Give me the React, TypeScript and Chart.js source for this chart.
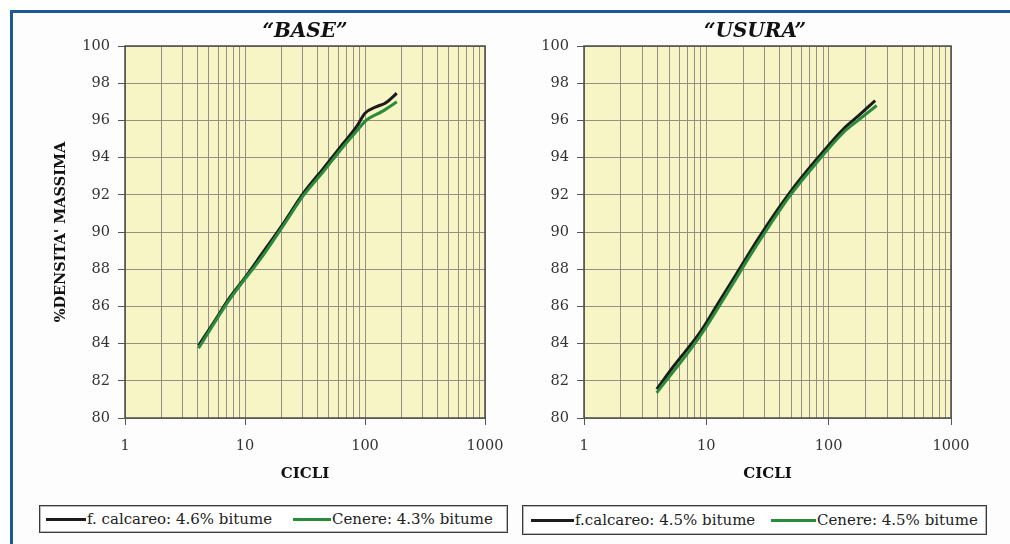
import React, { useEffect, useRef } from 'react';
import { Chart, registerables } from 'chart.js';

Chart.register(...registerables);

// ---------- data ----------
const xTickValues = [1, 2, 3, 4, 5, 6, 7, 8, 9, 10, 20, 30, 40, 50, 60, 70, 80, 90, 100, 200, 300, 400, 500, 600, 700, 800, 900, 1000];
const xMajorLabels = ['1', '10', '100', '1000'];
const yMin = 80;
const yMax = 100;
const yStep = 2;

const baseTitle = '“BASE”';
const usuraTitle = '“USURA”';
const xTitle = 'CICLI';
const yTitle = "%DENSITA' MASSIMA";

const baseLabels = ['f. calcareo: 4.6% bitume', 'Cenere: 4.3% bitume'];
const usuraLabels = ['f.calcareo: 4.5% bitume', 'Cenere: 4.5% bitume'];

const baseBlackCicli = [4.1, 5.5, 7.5, 10, 13.3, 20.9, 30.6, 45, 66, 85, 100, 125, 147, 184];
const baseBlackDens = [83.9, 85.15, 86.5, 87.55, 88.67, 90.47, 92.08, 93.42, 94.77, 95.66, 96.38, 96.74, 96.92, 97.46];
const baseGreenCicli = [4.1, 7.5, 13.8, 20.9, 30.6, 45, 66, 85, 103, 138, 184];
const baseGreenDens = [83.75, 86.4, 88.65, 90.35, 91.95, 93.25, 94.6, 95.42, 96.02, 96.47, 97.0];

const usuraBlackCicli = [3.93, 5.5, 8.88, 12, 16.6, 27.5, 48.3, 80, 132, 170, 240];
const usuraBlackDens = [81.55, 82.85, 84.6, 85.98, 87.47, 89.8, 92.13, 93.92, 95.54, 96.17, 97.06];
const usuraGreenCicli = [3.93, 8.88, 16.6, 22.8, 48.3, 80, 132, 170, 247];
const usuraGreenDens = [81.35, 84.4, 87.25, 88.73, 91.95, 93.74, 95.35, 95.95, 96.8];

// ---------- styles ----------
const BLACK = '#1c1c1c';
const GREEN = '#2a8c3a';
const GRID = '#978f86';
const TICKC = '#555';
const FONT = "'DejaVu Serif', 'Liberation Serif', serif";

const isMajor = (v: number) => {
  const l = Math.log10(v);
  return Math.abs(l - Math.round(l)) < 1e-9;
};

const plotFrame = {
  id: 'plotFrame',
  beforeDraw(chart: any) {
    const { ctx, chartArea } = chart;
    ctx.save();
    ctx.fillStyle = '#f7f5c6';
    ctx.fillRect(chartArea.left, chartArea.top, chartArea.width, chartArea.height);
    ctx.restore();
  },
  afterDraw(chart: any) {
    const { ctx, chartArea } = chart;
    ctx.save();
    ctx.strokeStyle = '#4a4a4a';
    ctx.lineWidth = 1.5;
    ctx.strokeRect(chartArea.left, chartArea.top, chartArea.width, chartArea.height);
    ctx.restore();
  },
};

function toPts(xs: number[], ys: number[]) {
  return xs.map((x, i) => ({ x, y: ys[i] }));
}

function buildConfig(opts: {
  title: string;
  titleFull: boolean;
  labels: string[];
  bx: number[]; by: number[]; gx: number[]; gy: number[];
  yAxisWidth: number;
  rightPad: number;
  rightSpacer: number;
  showYTitle: boolean;
}) {
  const scales: any = {
    x: {
      type: 'logarithmic',
      min: 1,
      max: 1000,
      afterBuildTicks: (s: any) => {
        s.ticks = xTickValues.map((v) => ({ value: v, major: isMajor(v) }));
      },
      afterFit: (s: any) => {
        s.height = 82;
        s.paddingLeft = 0;
        s.paddingRight = 0;
      },
      ticks: {
        autoSkip: false,
        maxRotation: 0,
        minRotation: 0,
        padding: 13,
        color: '#333',
        font: { family: FONT, size: 14.5 },
        callback: (v: any) => {
          const val = Number(v);
          if (!isMajor(val)) return '';
          return xMajorLabels[Math.round(Math.log10(val))];
        },
      },
      grid: {
        color: GRID,
        lineWidth: 1,
        tickLength: 7,
        tickColor: (c: any) => (c.tick && isMajor(c.tick.value) ? TICKC : 'rgba(0,0,0,0)'),
      },
      border: { display: false },
      title: {
        display: true,
        text: xTitle,
        color: '#111',
        font: { family: FONT, size: 15, weight: 'bold' },
        padding: { top: 0, bottom: 17 },
      },
    },
    y: {
      min: yMin,
      max: yMax,
      afterFit: (s: any) => {
        s.width = opts.yAxisWidth;
      },
      ticks: {
        stepSize: yStep,
        padding: 8,
        color: '#333',
        font: { family: FONT, size: 14.5 },
      },
      grid: {
        color: GRID,
        lineWidth: 1,
        tickLength: 7,
        tickColor: TICKC,
      },
      border: { display: false },
      title: {
        display: opts.showYTitle,
        text: yTitle,
        color: '#111',
        font: { family: FONT, size: 14.5, weight: 'bold' },
        padding: { top: 53, bottom: 0 },
      },
    },
  };
  if (opts.rightSpacer > 0) {
    // empty right-hand box that only reserves space (keeps the title centred like the original)
    scales.spacer = {
      type: 'linear',
      position: 'right',
      min: yMin,
      max: yMax,
      afterFit: (s: any) => {
        s.width = opts.rightSpacer;
      },
      ticks: { display: false },
      grid: { display: false, drawTicks: false },
      border: { display: false },
    };
  }
  return {
    type: 'line',
    data: {
      datasets: [
        {
          label: opts.labels[0],
          data: toPts(opts.bx, opts.by),
          borderColor: BLACK,
          backgroundColor: BLACK,
          borderWidth: 3,
          pointRadius: 0,
          cubicInterpolationMode: 'monotone',
          fill: false,
          order: 2,
        },
        {
          label: opts.labels[1],
          data: toPts(opts.gx, opts.gy),
          borderColor: GREEN,
          backgroundColor: GREEN,
          borderWidth: 3,
          pointRadius: 0,
          cubicInterpolationMode: 'monotone',
          fill: false,
          order: 1,
        },
      ],
    },
    options: {
      responsive: false,
      animation: false,
      events: [],
      layout: { padding: { top: 10, left: 0, right: opts.rightPad, bottom: 0 } },
      plugins: {
        legend: { display: false },
        tooltip: { enabled: false },
        title: {
          display: true,
          text: opts.title,
          fullSize: opts.titleFull,
          color: '#111',
          font: { family: FONT, size: 20, weight: 'bold', style: 'italic' },
          padding: { top: 10, bottom: 2 },
        },
      },
      scales,
    },
    plugins: [plotFrame],
  } as any;
}

function ChartCanvas({ config, left }: { config: any; left: number }) {
  const ref = useRef<HTMLCanvasElement | null>(null);
  useEffect(() => {
    if (!ref.current) return;
    const chart = new Chart(ref.current, config);
    return () => chart.destroy();
  }, [config]);
  return (
    <canvas
      ref={ref}
      width={505}
      height={500}
      style={{ position: 'absolute', left, top: 0, width: 505, height: 500, display: 'block' }}
    />
  );
}

function LegendBox({ labels, left, top, width, height, items }: {
  labels: string[]; left: number; top: number; width: number; height: number;
  items: { lineX: number; lineW: number; textX: number }[];
}) {
  const colors = [BLACK, GREEN];
  return (
    <div
      style={{
        position: 'absolute', left, top, width, height, boxSizing: 'border-box',
        border: '1px solid #3a3a3a', boxShadow: 'inset 0 0 0 1px #b8b8b8', background: '#fff',
      }}
    >
      {labels.map((lab, i) => (
        <React.Fragment key={i}>
          <div style={{ position: 'absolute', left: items[i].lineX, top: height / 2 - 2.5, width: items[i].lineW, height: 3, background: colors[i] }} />
          <div style={{ position: 'absolute', left: items[i].textX, top: 0, height: height - 2, lineHeight: `${height - 2}px`, fontFamily: FONT, fontSize: 15, color: '#222', whiteSpace: 'nowrap' }}>
            {lab}
          </div>
        </React.Fragment>
      ))}
    </div>
  );
}

const baseConfig = buildConfig({
  title: baseTitle, titleFull: false, labels: baseLabels,
  bx: baseBlackCicli, by: baseBlackDens, gx: baseGreenCicli, gy: baseGreenDens,
  yAxisWidth: 125, rightPad: 20, rightSpacer: 0, showYTitle: true,
});
const usuraConfig = buildConfig({
  title: usuraTitle, titleFull: true, labels: usuraLabels,
  bx: usuraBlackCicli, by: usuraBlackDens, gx: usuraGreenCicli, gy: usuraGreenDens,
  yAxisWidth: 79, rightPad: 5, rightSpacer: 54, showYTitle: false,
});

export default function App() {
  return (
    <div style={{ position: 'absolute', left: 0, top: 0, width: 1010, height: 544, background: '#fff', overflow: 'hidden' }}>
      <div style={{ position: 'absolute', left: 10, top: 10, width: 1010, height: 544, borderLeft: '3px solid #1d5995', borderTop: '3px solid #1d5995', background: '#fdfdfd' }} />
      <ChartCanvas config={baseConfig} left={0} />
      <ChartCanvas config={usuraConfig} left={505} />
      <LegendBox
        labels={baseLabels}
        left={39} top={505} width={469} height={28}
        items={[{ lineX: 6, lineW: 40, textX: 47 }, { lineX: 253, lineW: 38, textX: 292 }]}
      />
      <LegendBox
        labels={usuraLabels}
        left={522} top={505} width={465} height={30}
        items={[{ lineX: 8, lineW: 43, textX: 52 }, { lineX: 248, lineW: 45, textX: 294 }]}
      />
    </div>
  );
}
